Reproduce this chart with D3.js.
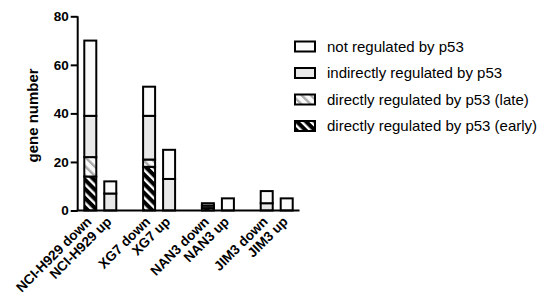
<!DOCTYPE html>
<html>
<head>
<meta charset="utf-8">
<script src="https://cdn.jsdelivr.net/npm/d3@7"></script>
<style>
  body { margin: 0; background: #fff; }
  svg { display: block; font-family: "Liberation Sans", Arial, sans-serif; }
</style>
</head>
<body>
<svg id="chart" width="546" height="296"></svg>
<script>
// data
const cellLines = ['NCI-H929', 'XG7', 'NAN3', 'JIM3'];
const directions = ['down', 'up'];
const seriesNames = [
  'directly regulated by p53 (early)',
  'directly regulated by p53 (late)',
  'indirectly regulated by p53',
  'not regulated by p53'
];
// values per bar, order: NCI down, NCI up, XG7 down, XG7 up, NAN3 down, NAN3 up, JIM3 down, JIM3 up
const earlyVals    = [14, 0, 18, 0, 1, 0, 0, 0];
const lateVals     = [8, 0, 3, 0, 1, 0, 0, 0];
const indirectVals = [17, 7, 18, 13, 1, 0, 3, 0];
const notVals      = [31, 5, 12, 12, 0, 5, 5, 5];
const yTicks = [0, 20, 40, 60, 80];

const svg = d3.select('#chart');

// patterns for hatched segments
const defs = svg.append('defs');
const earlyPat = defs.append('pattern')
  .attr('id', 'hatch-early')
  .attr('patternUnits', 'userSpaceOnUse')
  .attr('width', 6.5).attr('height', 6.5)
  .attr('patternTransform', 'rotate(-45)');
earlyPat.append('rect').attr('width', 6.5).attr('height', 6.5).attr('fill', '#000');
earlyPat.append('rect').attr('x', 0).attr('width', 2.4).attr('height', 6.5).attr('fill', '#fff');

const latePat = defs.append('pattern')
  .attr('id', 'hatch-late')
  .attr('patternUnits', 'userSpaceOnUse')
  .attr('width', 6.5).attr('height', 6.5)
  .attr('patternTransform', 'rotate(-45)');
latePat.append('rect').attr('width', 6.5).attr('height', 6.5).attr('fill', '#fafafa');
latePat.append('rect').attr('x', 0).attr('width', 2.4).attr('height', 6.5).attr('fill', '#aaa');

const fills = {
  'directly regulated by p53 (early)': 'url(#hatch-early)',
  'directly regulated by p53 (late)': 'url(#hatch-late)',
  'indirectly regulated by p53': '#e8e8e8',
  'not regulated by p53': '#fbfbfb'
};

// table for stacking
const rows = [];
cellLines.forEach((c, ci) => {
  directions.forEach((d, di) => {
    const i = ci * 2 + di;
    rows.push({
      cell: c, dir: d,
      'directly regulated by p53 (early)': earlyVals[i],
      'directly regulated by p53 (late)': lateVals[i],
      'indirectly regulated by p53': indirectVals[i],
      'not regulated by p53': notVals[i]
    });
  });
});
const stacked = d3.stack().keys(seriesNames)(rows);

const x0 = d3.scaleBand().domain(cellLines).range([78, 299])
  .paddingInner(0.456).paddingOuter(0.107);
const x1 = d3.scaleBand().domain(directions).range([0, x0.bandwidth()])
  .paddingInner(0.4).paddingOuter(0);
const y = d3.scaleLinear().domain([0, 80]).range([210.5, 16.3]);

// bars
stacked.forEach(layer => {
  svg.append('g').selectAll('rect')
    .data(layer.filter(d => d[1] > d[0]))
    .join('rect')
    .attr('x', d => x0(d.data.cell) + x1(d.data.dir))
    .attr('width', x1.bandwidth())
    .attr('y', d => y(d[1]))
    .attr('height', d => y(d[0]) - y(d[1]))
    .attr('fill', fills[layer.key])
    .attr('stroke', '#000')
    .attr('stroke-width', 2);
});

// y axis
const yAxis = svg.append('g')
  .attr('transform', 'translate(77.7,0)')
  .call(d3.axisLeft(y).tickValues(yTicks).tickSize(7).tickPadding(2));
yAxis.select('.domain').attr('stroke-width', 2).attr('d', `M0,${y(80)}V${y(0)}`);
yAxis.selectAll('.tick line').attr('stroke-width', 2);
yAxis.selectAll('.tick text')
  .attr('font-size', 13.5).attr('font-weight', 'bold')
  .attr('font-family', '"Liberation Sans", Arial, sans-serif').attr('fill', '#000');

// x axis line
svg.append('line')
  .attr('x1', 76.7).attr('x2', 299.5)
  .attr('y1', y(0)).attr('y2', y(0))
  .attr('stroke', '#000').attr('stroke-width', 2);

// x labels
svg.append('g').selectAll('text')
  .data(rows)
  .join('text')
  .attr('transform', d => `translate(${x0(d.cell) + x1(d.dir) + x1.bandwidth() / 2 + 2},${y(0) + 12}) rotate(-45)`)
  .attr('text-anchor', 'end')
  .attr('font-size', 13.6)
  .attr('font-weight', 'bold')
  .text(d => d.cell + ' ' + d.dir);

// y title
svg.append('text')
  .attr('transform', `translate(38,${(y(0) + y(80)) / 2 + 2}) rotate(-90)`)
  .attr('text-anchor', 'middle')
  .attr('font-size', 15)
  .attr('font-weight', 'bold')
  .text('gene number');

// legend
const legendOrder = seriesNames.slice().reverse();
const legend = svg.append('g').selectAll('g')
  .data(legendOrder)
  .join('g')
  .attr('transform', (d, i) => `translate(295,${46.5 + i * 26.5})`);
legend.append('rect')
  .attr('x', 0).attr('y', -5)
  .attr('width', 20).attr('height', 10)
  .attr('fill', d => fills[d])
  .attr('stroke', '#000').attr('stroke-width', 2);
legend.append('text')
  .attr('x', 32).attr('y', 0)
  .attr('dy', '0.35em')
  .attr('font-size', 15)
  .text(d => d);
</script>
</body>
</html>
